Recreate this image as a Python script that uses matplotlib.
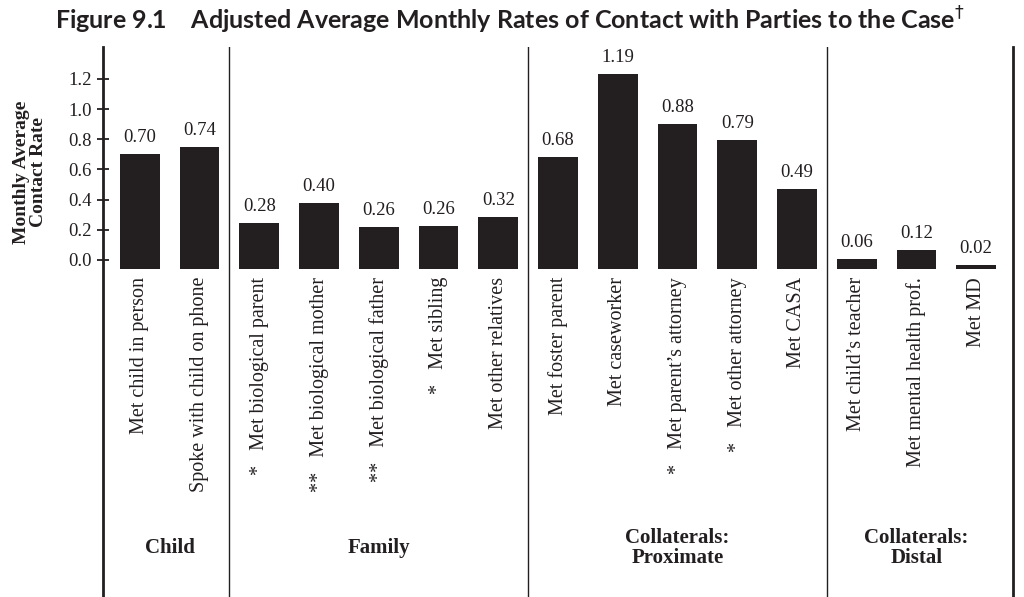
import matplotlib
matplotlib.use("Agg")
import matplotlib.pyplot as plt

categories = [
    "Met child in person", "Spoke with child on phone",
    "*   Met biological parent", "**   Met biological mother",
    "**   Met biological father", "*   Met sibling", "Met other relatives",
    "Met foster parent", "Met caseworker", "*   Met parent\u2019s attorney",
    "*   Met other attorney", "Met CASA",
    "Met child\u2019s teacher", "Met mental health prof.", "Met MD",
]
# printed values above the bars
value_labels = ["0.70", "0.74", "0.28", "0.40", "0.26", "0.26", "0.32",
                "0.68", "1.19", "0.88", "0.79", "0.49", "0.06", "0.12", "0.02"]
# bar tops as drawn in the figure (they start a little below zero)
bar_tops = [0.705, 0.749, 0.247, 0.376, 0.219, 0.227, 0.285,
            0.681, 1.233, 0.902, 0.796, 0.469, 0.009, 0.066, -0.035]
baseline = -0.058
groups = ["Child", "Family", "Collaterals:\nProximate", "Collaterals:\nDistal"]
group_sizes = [2, 5, 5, 3]
yticks = [0.0, 0.2, 0.4, 0.6, 0.8, 1.0, 1.2]

serif = "Liberation Serif"
ink = "#231f20"

fig = plt.figure(figsize=(10.24, 5.97), dpi=100)
ax = fig.add_axes([103/1024, 0, 910/1024, 550/597])

x = list(range(len(categories)))
heights = [t - baseline for t in bar_tops]
ax.bar(x, heights, bottom=baseline, width=0.665, color=ink)

for xi, top, lab in zip(x, bar_tops, value_labels):
    ax.annotate(lab, (xi, top), xytext=(0, 8.5), textcoords="offset points",
                ha="center", va="baseline", fontsize=13.5, family=serif, color=ink)

for xi, name in zip(x, categories):
    ax.text(xi, -0.113, name, rotation=90, ha="center", va="top",
            fontsize=14.5, family=serif, color=ink)

ax.set_xlim(-0.617, 14.617)
ax.set_ylim(-2.235, 1.412)

# group separators and group names
start = 0
for i, (g, n) in enumerate(zip(groups, group_sizes)):
    end = start + n
    if i < len(groups) - 1:
        ax.axvline(end - 0.5, color=ink, lw=1.0)
    left = max(start - 0.5, -0.617)
    right = min(end - 0.5, 14.617)
    ax.text((left + right) / 2, -1.91, g, ha="center", va="center",
            fontsize=15, fontweight="bold", family=serif, color=ink,
            linespacing=1.05)
    start = end

for s in ["top", "bottom"]:
    ax.spines[s].set_visible(False)
for s in ["left", "right"]:
    ax.spines[s].set_linewidth(2)
    ax.spines[s].set_color(ink)

ax.set_yticks(yticks)
ax.set_yticklabels([f"{v:.1f}" for v in yticks], family=serif, fontsize=13.5, color=ink)
ax.tick_params(axis="y", direction="inout", length=8, width=1.3, color=ink, pad=4)
ax.tick_params(axis="x", bottom=False, labelbottom=False)
ax.tick_params(axis="y", right=False)

fig.text(30/1024, 1 - 172/597, "Monthly Average\nContact Rate", rotation=90,
         ha="center", va="center", fontsize=14, fontweight="bold", family=serif,
         color=ink, linespacing=1.05)

fig.text(510/1024, 1 - 20/597,
         "Figure 9.1    Adjusted Average Monthly Rates of Contact with Parties to the Case$^{\\dagger}$",
         ha="center", va="center", fontsize=18, fontweight="bold", family="Lato", color=ink)

fig.savefig("out.png", dpi=100)
